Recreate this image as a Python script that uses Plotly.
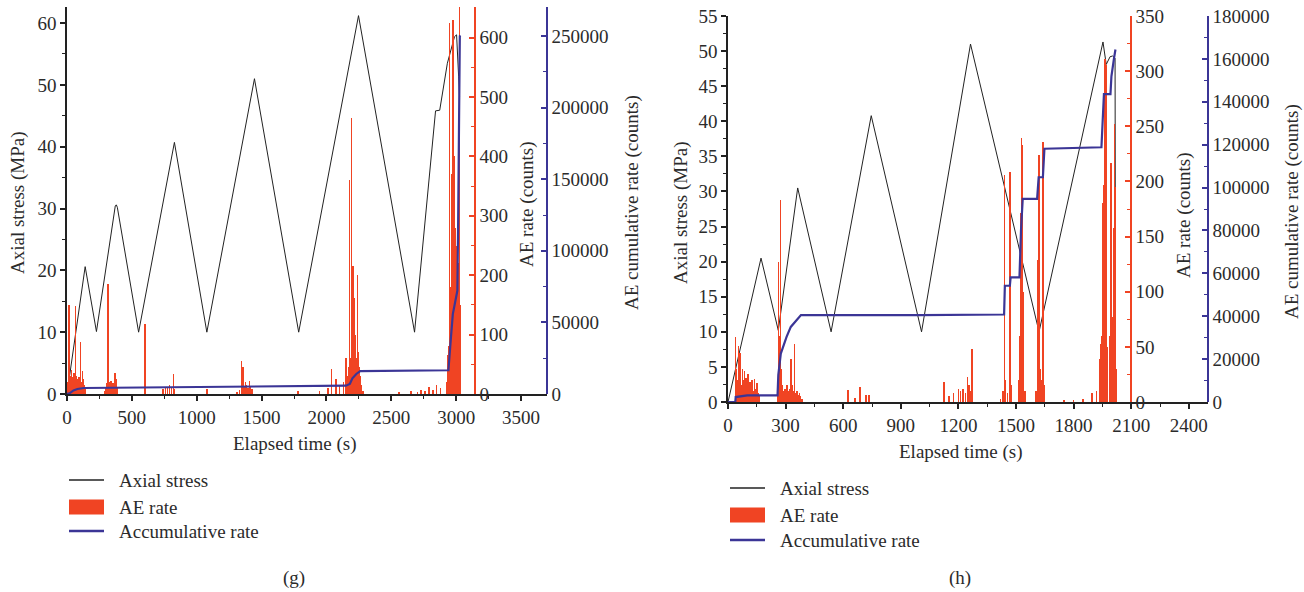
import plotly.graph_objects as go

# ---------------- Panel (g) data ----------------
g_stress_t = [0, 140, 227, 372, 380, 388, 552, 828, 1078, 1445, 1786, 2247, 2679, 2841, 2873, 2932, 2987, 3003, 3019, 3026]
g_stress_v = [0, 20.6, 10.1, 30.4, 30.6, 30.2, 10.0, 40.7, 10.0, 51.0, 10.0, 61.2, 10.0, 45.8, 45.9, 53.5, 57.8, 58.1, 51.3, 48.1]

g_ae_t = [5, 10, 16, 22, 28, 34, 40, 46, 52, 58, 65, 72, 78, 85, 92, 98, 105, 112, 118, 125, 132, 140,
          290, 300, 310, 318, 325, 332, 340, 348, 355, 362, 370, 378, 385,
          600,
          740, 760, 775, 790, 805, 820, 830,
          1080,
          1310, 1330, 1345, 1355, 1365, 1375, 1385, 1395, 1405, 1415, 1425,
          1780, 1948,
          2010, 2040, 2075, 2100, 2130, 2150, 2160, 2170, 2178, 2185, 2192, 2198, 2205, 2210, 2215, 2220,
          2225, 2232, 2240, 2248, 2255, 2262, 2270, 2280,
          2560, 2650, 2700, 2730, 2760, 2790, 2820, 2850, 2880,
          2925, 2932, 2938, 2944, 2950, 2955, 2960, 2965, 2970, 2975, 2980, 2985, 2990, 2995, 3000,
          3005, 3010, 3015, 3020, 3025, 3030]
g_ae_v = [20, 35, 150, 30, 25, 40, 28, 22, 35, 25, 148, 30, 25, 20, 28, 22, 88, 20, 38, 25, 15, 8,
          5, 12, 18, 185, 20, 15, 22, 12, 18, 10, 35, 25, 12,
          118,
          8, 12, 10, 15, 12, 33, 8,
          8,
          4, 6, 56, 45, 12, 20, 15, 10, 22, 12, 8,
          5, 5,
          10, 42, 25, 15, 20, 61, 30, 45, 361, 60, 464, 90, 216, 80, 162, 100,
          75, 60, 201, 70, 45, 30, 15, 5,
          3, 5, 4, 6, 5, 12, 6, 15, 10,
          20, 55, 65, 80, 625, 130, 180, 371, 220, 630, 260, 400, 240, 280, 230,
          250, 200, 220, 180, 670, 150]

g_cum_t = [0, 20, 50, 80, 130, 500, 1100, 1200, 1500, 2150, 2180, 2200, 2230, 2260, 2940, 2951, 2960, 2974, 2995,
           3009, 3015, 3020, 3028, 3032]
g_cum_v = [0, 500, 2500, 3500, 4200, 4500, 5000, 5300, 5600, 5800, 7000, 11000, 14000, 16000, 16600, 32000,
           40000, 55800, 65100, 72100, 120000, 200000, 250000, 250500]

# ---------------- Panel (h) data ----------------
h_stress_t = [0, 172, 262, 363, 537, 746, 1008, 1263, 1620, 1953, 1970, 1990, 2003, 2016, 2018]
h_stress_v = [0, 20.5, 10.2, 30.5, 10.0, 40.8, 10.0, 51.0, 10.0, 51.3, 48.1, 49.2, 49.3, 49.0, 12.0]

h_ae_t = [40, 45, 50, 54, 58, 62, 66, 70, 75, 80, 85, 90, 95, 100, 105, 110, 115, 120, 126, 132, 138, 144, 150, 156, 162,
          258, 262, 265, 268, 273, 278, 284, 290, 296, 302, 308, 314, 320, 327, 333, 340, 347, 354, 360, 366, 372, 378, 385,
          625, 660, 688, 720, 735,
          1126, 1150, 1175, 1200, 1212, 1225, 1238, 1248, 1255, 1262, 1272,
          1420, 1432, 1440, 1446, 1455, 1470, 1476,
          1515, 1520, 1524, 1528, 1532, 1536, 1540, 1546,
          1605, 1612, 1616, 1620, 1625, 1636, 1642, 1648,
          1750, 1800, 1850,
          1895, 1920, 1935, 1942, 1948, 1951, 1955, 1960, 1965, 1968, 1972, 1976, 1990, 1994, 1998, 2003, 2008,
          2012, 2016, 2020]
h_ae_v = [59, 30, 20, 51, 35, 44, 25, 15, 30, 20, 28, 15, 22, 12, 25, 10, 18, 12, 20, 10, 21, 12, 17, 8, 5,
          10, 127, 60, 20, 183, 30, 15, 10, 12, 8, 15, 10, 12, 39, 15, 10, 53, 8, 10, 6, 8, 5, 3,
          11, 4, 14, 6, 6,
          18, 5, 8, 12, 10, 12, 8, 23, 15, 10, 48,
          3, 10, 206, 20, 8, 209, 15,
          20, 60, 171, 239, 233, 100, 40, 10,
          10, 40, 129, 224, 30, 20, 236, 15,
          2, 2, 3,
          8, 10, 39, 53, 60, 180, 197, 297, 311, 306, 153, 50, 60, 217, 215, 77, 158,
          252, 195, 30]

h_cum_t = [0, 38, 40, 100, 258, 262, 275, 305, 327, 359, 380, 1000, 1438, 1442, 1468, 1472, 1518, 1526, 1535,
           1610, 1618, 1640, 1648, 1945, 1950, 1958, 1992, 1997, 2010, 2018]
h_cum_v = [0, 0, 2300, 3100, 3100, 12500, 22600, 30400, 35000, 38200, 40500, 40500, 40800, 54200, 54200, 58100,
           58100, 80000, 94700, 94700, 104800, 104800, 118100, 118800, 130000, 143600, 143600, 151900, 160000, 164400]

# ---------------- styling ----------------
W, H = 1304, 592
FONT = "Liberation Serif"
BLACK = "#222222"
ORANGE = "#f04423"
BLUE = "#3b3596"
TXT = "#2b2b2b"
FS = 19


def px(x):
    return x / W


def py(y):
    return 1 - y / H


fig = go.Figure()

# panel g traces
fig.add_trace(go.Scatter(x=g_stress_t, y=g_stress_v, mode="lines", name="Axial stress",
                         line=dict(color=BLACK, width=1), xaxis="x", yaxis="y", showlegend=False))
fig.add_trace(go.Bar(x=g_ae_t, y=g_ae_v, name="AE rate", marker=dict(color=ORANGE, line=dict(width=0)),
                     width=4, xaxis="x", yaxis="y2", showlegend=False))
fig.add_trace(go.Scatter(x=g_cum_t, y=g_cum_v, mode="lines", name="Accumulative rate",
                         line=dict(color=BLUE, width=2.2), xaxis="x", yaxis="y3", showlegend=False))

# panel h traces
fig.add_trace(go.Scatter(x=h_stress_t, y=h_stress_v, mode="lines", name="Axial stress",
                         line=dict(color=BLACK, width=1), xaxis="x2", yaxis="y4", showlegend=False))
fig.add_trace(go.Bar(x=h_ae_t, y=h_ae_v, name="AE rate", marker=dict(color=ORANGE, line=dict(width=0)),
                     width=3, xaxis="x2", yaxis="y5", showlegend=False))
fig.add_trace(go.Scatter(x=h_cum_t, y=h_cum_v, mode="lines", name="Accumulative rate",
                         line=dict(color=BLUE, width=2.2), xaxis="x2", yaxis="y6", showlegend=False))

tickfont = dict(family=FONT, size=FS, color=TXT)


def ax_common(color, ticks, dtick, minor_dtick, rng):
    return dict(showline=True, linecolor=color, linewidth=1.5, ticks=ticks, ticklen=5, tickwidth=1.5,
                tickcolor=color, dtick=dtick, tick0=0, range=rng, showgrid=False, zeroline=False,
                tickfont=tickfont, fixedrange=True, automargin=False, tickformat="d",
                minor=dict(ticks=ticks, ticklen=3, tickwidth=1.2, tickcolor=color, dtick=minor_dtick,
                           showgrid=False))


# panel g geometry
gx0, gx1 = px(67), px(547)
gy0, gy1 = py(394), py(7)
# panel h geometry
hx0, hx1 = px(728), px(1208)
hy0, hy1 = py(402), py(16)

fig.update_layout(
    width=W, height=H, margin=dict(l=0, r=0, t=0, b=0, autoexpand=False),
    font=dict(family=FONT, size=FS, color=TXT),
    paper_bgcolor="white", plot_bgcolor="rgba(0,0,0,0)",
    bargap=0, barmode="overlay",
    xaxis=dict(domain=[gx0, gx1], anchor="y", **ax_common(BLACK, "outside", 500, 250, [0, 3700])),
    yaxis=dict(domain=[gy0, gy1], anchor="x", **ax_common(BLACK, "outside", 10, 5, [0, 62.6])),
    yaxis2=dict(overlaying="y", side="right", anchor="free", position=px(475),
                **ax_common(ORANGE, "inside", 100, 50, [0, 651.5])),
    yaxis3=dict(overlaying="y", side="right", anchor="free", position=gx1,
                **ax_common(BLUE, "inside", 50000, 25000, [0, 270250])),
    xaxis2=dict(domain=[hx0, hx1], anchor="y4", **ax_common(BLACK, "outside", 300, 150, [0, 2500])),
    yaxis4=dict(domain=[hy0, hy1], anchor="x2", **ax_common(BLACK, "outside", 5, 2.5, [0, 55])),
    yaxis5=dict(overlaying="y4", side="right", anchor="free", position=px(1131),
                **ax_common(ORANGE, "inside", 50, 25, [0, 350])),
    yaxis6=dict(overlaying="y4", side="right", anchor="free", position=hx1,
                **ax_common(BLUE, "inside", 20000, 10000, [0, 180000])),
)

ann = []


def text(x, y, s, angle=0, size=FS, anchor="center"):
    ann.append(dict(x=px(x), y=py(y), xref="paper", yref="paper", text=s, showarrow=False,
                    textangle=angle, xanchor=anchor, yanchor="middle",
                    font=dict(family=FONT, size=size, color=TXT)))


# axis titles
text(18, 203, "Axial stress (MPa)", -90)
text(527, 204, "AE rate (counts)", -90)
text(632, 203, "AE cumulative rate (counts)", -90)
text(294, 444, "Elapsed time (s)")
text(681, 213, "Axial stress (MPa)", -90)
text(1184, 215, "AE rate (counts)", -90)
text(1292, 212, "AE cumulative rate (counts)", -90)
text(960, 452, "Elapsed time (s)")
# captions
text(294, 578, "(g)")
text(960, 578, "(h)")

shapes = []


def legend(x0, ys):
    yl, yr, yb = ys
    shapes.append(dict(type="line", xref="paper", yref="paper", x0=px(x0), x1=px(x0 + 35), y0=py(yl), y1=py(yl),
                       line=dict(color=BLACK, width=1.5)))
    shapes.append(dict(type="rect", xref="paper", yref="paper", x0=px(x0), x1=px(x0 + 35), y0=py(yr - 7.5),
                       y1=py(yr + 7.5), line=dict(width=0), fillcolor=ORANGE))
    shapes.append(dict(type="line", xref="paper", yref="paper", x0=px(x0), x1=px(x0 + 35), y0=py(yb), y1=py(yb),
                       line=dict(color=BLUE, width=2.5)))
    text(x0 + 48, yl, "Axial stress", anchor="left")
    text(x0 + 48, yr, "AE rate", anchor="left")
    text(x0 + 48, yb, "Accumulative rate", anchor="left")


legend(69, (480, 507, 531))
legend(730, (488, 515, 540))

fig.update_layout(annotations=ann, shapes=shapes)

fig.write_html("out.html")
